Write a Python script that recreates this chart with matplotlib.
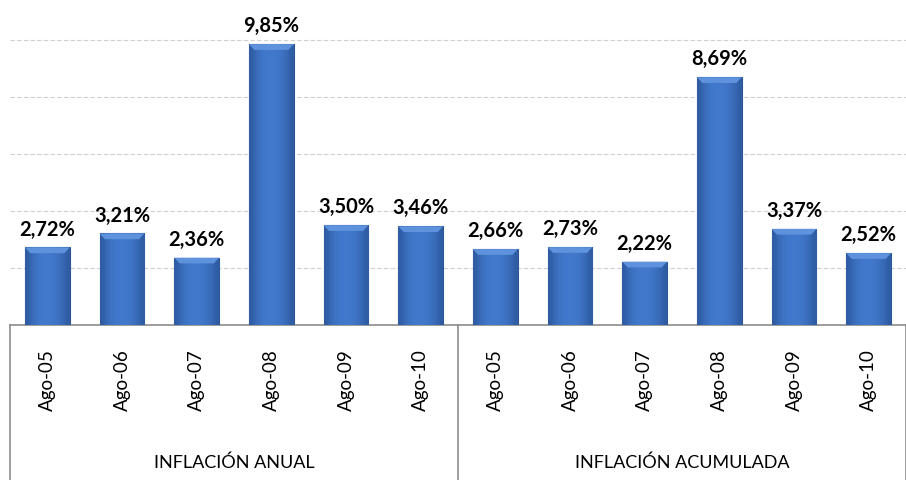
import matplotlib
matplotlib.use("Agg")
import matplotlib.pyplot as plt
import matplotlib.transforms as mtransforms
import numpy as np

# Data
months = ["Ago-05", "Ago-06", "Ago-07", "Ago-08", "Ago-09", "Ago-10"]
groups = ["INFLACIÓN ANUAL", "INFLACIÓN ACUMULADA"]
anual = [2.72, 3.21, 2.36, 9.85, 3.50, 3.46]
acumulada = [2.66, 2.73, 2.22, 8.69, 3.37, 2.52]

values = anual + acumulada
labels = months + months
x = np.arange(len(values))

plt.rcParams['font.family'] = ['Lato', 'DejaVu Sans']

fig = plt.figure(figsize=(9.06, 4.8), dpi=100)
ax = fig.add_axes([10 / 906, 155 / 480, 896 / 906, 325 / 480])

bars = ax.bar(x, values, width=0.6, color="#3d72c4", edgecolor="#2d5898", linewidth=0.8, zorder=3)

# horizontal shading on each bar (darker edges, lighter middle)
shade = np.array([0.0, 0.55, 0.85, 1.0, 1.0, 0.95, 0.8, 0.5, 0.0])
cmap = matplotlib.colors.LinearSegmentedColormap.from_list("bar", ["#2f5ca3", "#4279cc"])
for b in bars:
    x0, w, h = b.get_x(), b.get_width(), b.get_height()
    im = ax.imshow(shade[None, :], extent=[x0, x0 + w, 0, h], cmap=cmap, aspect="auto",
                   zorder=3.5, interpolation="bicubic")
    im.set_clip_path(b)
    # light bevel at the top
    bev = h - 0.2
    ax.fill([x0, x0 + w, x0 + w * 0.88, x0 + w * 0.12], [h, h, bev, bev],
            color="#5f92dc", zorder=4, lw=0)
    ax.text(b.get_x() + w / 2, h + 0.28, f"{h:.2f}%".replace(".", ","),
            ha="center", va="bottom", fontsize=14.5, fontweight="bold", color="black", zorder=5)

ax.set_xlim(-0.5, len(values) - 0.5)
ax.set_ylim(0, 11.4)
ax.set_yticks([2, 4, 6, 8, 10])
ax.yaxis.grid(True, color="#d0d0d0", linestyle=(0, (4, 2)), linewidth=0.8, zorder=0)
ax.tick_params(axis="y", left=False, labelleft=False)
ax.tick_params(axis="x", bottom=False, labelbottom=False)
for s in ["top", "left", "right"]:
    ax.spines[s].set_visible(False)
ax.spines["bottom"].set_color("#8c8c8c")
ax.spines["bottom"].set_linewidth(1.2)

# multi-level category axis below
trans = mtransforms.blended_transform_factory(ax.transData, ax.transAxes)
for xi, lab in zip(x, labels):
    ax.text(xi, -0.17, lab, rotation=90, ha="center", va="center", fontsize=13.5,
            transform=trans, color="black")
n = len(months)
for gi, g in enumerate(groups):
    ax.text(gi * n + (n - 1) / 2, -0.425, g, ha="center", va="center", fontsize=13,
            transform=trans, color="black")
for xs in [-0.5, n - 0.5, 2 * n - 0.5]:
    ax.plot([xs, xs], [0, -0.48], color="#8c8c8c", lw=1.2, transform=trans, clip_on=False)

fig.savefig("out.png", dpi=100)
